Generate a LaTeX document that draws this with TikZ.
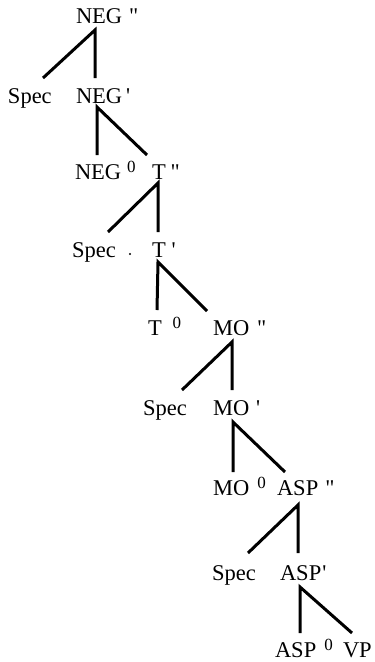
\documentclass[tikz,border=0pt]{standalone}
\usepackage{fontspec}
\setmainfont{Liberation Serif}[Ligatures=TeXOff]
\begin{document}
\begin{tikzpicture}[x=1pt,y=-1pt,
  lbl/.style={anchor=base west,inner sep=0pt,outer sep=0pt,font=\fontsize{22.5}{24}\selectfont},
  branch/.style={line width=3pt,line join=miter}]
\newcommand{\zsup}{\raisebox{7pt}{\fontsize{17}{17}\selectfont 0}}
\useasboundingbox (0,0) rectangle (375,662);
% labels
\node[lbl] (negpp) at (76,23) {NEG\kern7pt"};
\node[lbl] (spec1) at (8,103) {Spec};
\node[lbl] (negp) at (76,103) {NEG\kern4pt'};
\node[lbl] (neg0) at (75,179) {NEG\kern6pt\zsup};
\node[lbl] (tpp) at (152,179) {T\kern5pt"};
\node[lbl] (spec2) at (72,257) {Spec};
\fill (130,254) circle (1.1pt);
\node[lbl] (tp) at (152,257) {T\kern6pt'};
\node[lbl] (t0) at (148,335) {T\kern11pt\zsup};
\node[lbl] (mopp) at (213,335) {MO\kern8pt"};
\node[lbl] (spec3) at (143,415) {Spec};
\node[lbl] (mop) at (213,415) {MO\kern7pt'};
\node[lbl] (mo0) at (213,495) {MO\kern8pt\zsup};
\node[lbl] (asppp) at (277,495) {ASP\kern7pt"};
\node[lbl] (spec4) at (212,580) {Spec};
\node[lbl] (aspp) at (280,580) {ASP\kern1pt'};
\node[lbl] (asp0) at (275,657) {ASP\kern8pt\zsup};
\node[lbl] (vp) at (343,657) {VP};
% branch points
\coordinate (a1) at (95,30);  \coordinate (l1) at (43,78);  \coordinate (r1) at (95,78);
\coordinate (a2) at (97,107); \coordinate (l2) at (97,155); \coordinate (r2) at (147,155);
\coordinate (a3) at (158,183);\coordinate (l3) at (108,232);\coordinate (r3) at (158,232);
\coordinate (a4) at (158,262);\coordinate (l4) at (157,310);\coordinate (r4) at (207,311);
\coordinate (a5) at (232,342);\coordinate (l5) at (182,390);\coordinate (r5) at (232,390);
\coordinate (a6) at (233,422);\coordinate (l6) at (233,472);\coordinate (r6) at (285,472);
\coordinate (a7) at (298,505);\coordinate (l7) at (248,553);\coordinate (r7) at (298,553);
\coordinate (a8) at (300,587);\coordinate (l8) at (300,633);\coordinate (r8) at (352,633);
\foreach \i in {1,...,8} \draw[branch] (l\i) -- (a\i) -- (r\i);
\end{tikzpicture}
\end{document}
